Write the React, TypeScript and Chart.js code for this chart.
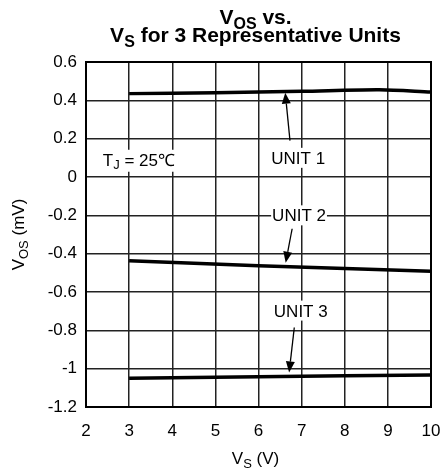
import React, { useEffect, useRef } from "react";
import { Chart, registerables } from "chart.js";
Chart.register(...registerables);

// ---- data ----
const xMin = 2;
const xMax = 10;
const yMin = -1.2;
const yMax = 0.6;
const yStep = 0.2;

const unit1Vs = [3, 5, 7, 8.8, 10];
const unit1Vos = [0.435, 0.44, 0.447, 0.455, 0.443];
const unit2Vs = [3, 6, 10];
const unit2Vos = [-0.437, -0.463, -0.492];
const unit3Vs = [3, 6, 10];
const unit3Vos = [-1.05, -1.042, -1.033];

const labelTexts = ["UNIT 1", "UNIT 2", "UNIT 3"];
const labelX = [6.92, 6.94, 6.98];
const labelY = [0.1, -0.2, -0.697];
const arrowFromX = [6.73, 6.78, 6.83];
const arrowFromY = [0.19, -0.27, -0.785];
const arrowToX = [6.62, 6.63, 6.71];
const arrowToY = [0.44, -0.447, -1.02];

const tempLabelX = 2.39;
const tempLabelY = 0.09;

type Seg = { t: string; sub?: boolean };

const FONT = "Arial, 'Liberation Sans', Helvetica, sans-serif";

function segFont(size: number, bold: boolean, sub?: boolean) {
  const s = sub ? Math.round(size * 0.78) : size;
  return `${bold ? "bold " : ""}${s}px ${FONT}`;
}

function measureRich(ctx: CanvasRenderingContext2D, segs: Seg[], size: number, bold: boolean) {
  let w = 0;
  for (const s of segs) {
    ctx.font = segFont(size, bold, s.sub);
    w += ctx.measureText(s.t).width;
  }
  return w;
}

function drawRich(
  ctx: CanvasRenderingContext2D,
  segs: Seg[],
  x: number,
  y: number,
  size: number,
  bold: boolean,
  align: "left" | "center"
) {
  const w = measureRich(ctx, segs, size, bold);
  let cx = align === "center" ? x - w / 2 : x;
  ctx.textBaseline = "alphabetic";
  ctx.textAlign = "left";
  for (const s of segs) {
    ctx.font = segFont(size, bold, s.sub);
    ctx.fillText(s.t, cx, y + (s.sub ? size * 0.22 : 0));
    cx += ctx.measureText(s.t).width;
  }
  return w;
}

function drawArrow(ctx: CanvasRenderingContext2D, x1: number, y1: number, x2: number, y2: number) {
  const ang = Math.atan2(y2 - y1, x2 - x1);
  const head = 11;
  const hw = 4.5;
  const bx = x2 - head * Math.cos(ang);
  const by = y2 - head * Math.sin(ang);
  ctx.strokeStyle = "#000";
  ctx.lineWidth = 1.3;
  ctx.beginPath();
  ctx.moveTo(x1, y1);
  ctx.lineTo(bx, by);
  ctx.stroke();
  ctx.fillStyle = "#000";
  ctx.beginPath();
  ctx.moveTo(x2, y2);
  ctx.lineTo(bx + hw * Math.sin(ang), by - hw * Math.cos(ang));
  ctx.lineTo(bx - hw * Math.sin(ang), by + hw * Math.cos(ang));
  ctx.closePath();
  ctx.fill();
}

const decorPlugin = {
  id: "decor",
  afterDraw(chart: any) {
    const ctx: CanvasRenderingContext2D = chart.ctx;
    const xs = chart.scales.x;
    const ys = chart.scales.y;
    const area = chart.chartArea;
    ctx.save();

    // frame
    ctx.strokeStyle = "#000";
    ctx.lineWidth = 2;
    ctx.strokeRect(area.left, area.top, area.right - area.left, area.bottom - area.top);

    // labels with white background
    ctx.fillStyle = "#000";
    const lblSize = 17;
    for (let i = 0; i < labelTexts.length; i++) {
      const px = xs.getPixelForValue(labelX[i]);
      const py = ys.getPixelForValue(labelY[i]);
      ctx.font = segFont(lblSize, false);
      const w = ctx.measureText(labelTexts[i]).width;
      ctx.fillStyle = "#fff";
      ctx.fillRect(px - w / 2 - 1, py - 10, w + 2, 20);
      ctx.fillStyle = "#000";
      drawRich(ctx, [{ t: labelTexts[i] }], px, py + 6, lblSize, false, "center");
    }
    // temperature label
    {
      const segs: Seg[] = [{ t: "T" }, { t: "J", sub: true }, { t: " = 25\u2103" }];
      const px = xs.getPixelForValue(tempLabelX);
      const py = ys.getPixelForValue(tempLabelY);
      const w = measureRich(ctx, segs, lblSize, false);
      ctx.fillStyle = "#fff";
      ctx.fillRect(px - 1, py - 10, w + 2, 22);
      ctx.fillStyle = "#000";
      drawRich(ctx, segs, px, py + 6, lblSize, false, "left");
    }
    // arrows
    for (let i = 0; i < arrowFromX.length; i++) {
      drawArrow(
        ctx,
        xs.getPixelForValue(arrowFromX[i]),
        ys.getPixelForValue(arrowFromY[i]),
        xs.getPixelForValue(arrowToX[i]),
        ys.getPixelForValue(arrowToY[i])
      );
    }

    // title
    ctx.fillStyle = "#000";
    const cx = (area.left + area.right) / 2 - 3;
    drawRich(ctx, [{ t: "V" }, { t: "OS", sub: true }, { t: " vs." }], cx, 24, 21, true, "center");
    drawRich(
      ctx,
      [{ t: "V" }, { t: "S", sub: true }, { t: " for 3 Representative Units" }],
      cx,
      42,
      21,
      true,
      "center"
    );

    // x axis title
    drawRich(ctx, [{ t: "V" }, { t: "S", sub: true }, { t: " (V)" }], cx, 464, 17, false, "center");

    // y axis title
    ctx.save();
    ctx.translate(24, (area.top + area.bottom) / 2);
    ctx.rotate(-Math.PI / 2);
    drawRich(ctx, [{ t: "V" }, { t: "OS", sub: true }, { t: " (mV)" }], 0, 0, 17, false, "center");
    ctx.restore();

    ctx.restore();
  },
};

export default function App() {
  const ref = useRef<HTMLCanvasElement | null>(null);
  useEffect(() => {
    if (!ref.current) return;
    const mk = (xs: number[], ys: number[]) => xs.map((x, i) => ({ x, y: ys[i] }));
    const lineStyle = {
      borderColor: "#000",
      borderWidth: 3.5,
      pointRadius: 0,
      fill: false,
      tension: 0.3,
    };
    const chart = new Chart(ref.current, {
      type: "line",
      data: {
        datasets: [
          { label: "UNIT 1", data: mk(unit1Vs, unit1Vos), ...lineStyle },
          { label: "UNIT 2", data: mk(unit2Vs, unit2Vos), ...lineStyle },
          { label: "UNIT 3", data: mk(unit3Vs, unit3Vos), ...lineStyle },
        ],
      },
      options: {
        animation: false,
        responsive: false,
        devicePixelRatio: 1,
        layout: { padding: { top: 62, right: 10, left: 0, bottom: 0 } },
        plugins: { legend: { display: false }, tooltip: { enabled: false }, title: { display: false } },
        scales: {
          x: {
            type: "linear",
            min: xMin,
            max: xMax,
            ticks: {
              stepSize: 1,
              color: "#000",
              font: { family: FONT, size: 17 },
              padding: 14,
              maxRotation: 0,
            },
            grid: { color: "#222", lineWidth: 1.5, drawTicks: false },
            border: { display: true, color: "#000", width: 2 },
            afterFit: (s: any) => {
              s.height = 63;
              s.paddingLeft = 0;
              s.paddingRight = 0;
            },
          },
          y: {
            type: "linear",
            min: yMin,
            max: yMax,
            ticks: {
              stepSize: yStep,
              color: "#000",
              font: { family: FONT, size: 17 },
              padding: 9,
              callback: (v: any) => String(Number(Number(v).toFixed(1))),
            },
            grid: { color: "#222", lineWidth: 1.5, drawTicks: false },
            border: { display: true, color: "#000", width: 2 },
            afterFit: (s: any) => {
              s.width = 86;
              s.paddingTop = 0;
              s.paddingBottom = 0;
            },
          },
        },
      },
      plugins: [decorPlugin],
    });
    return () => chart.destroy();
  }, []);
  return (
    <div style={{ position: "fixed", left: 0, top: 0, width: 441, height: 470, background: "#fff" }}>
      <canvas ref={ref} width={441} height={470} style={{ display: "block" }} />
    </div>
  );
}
